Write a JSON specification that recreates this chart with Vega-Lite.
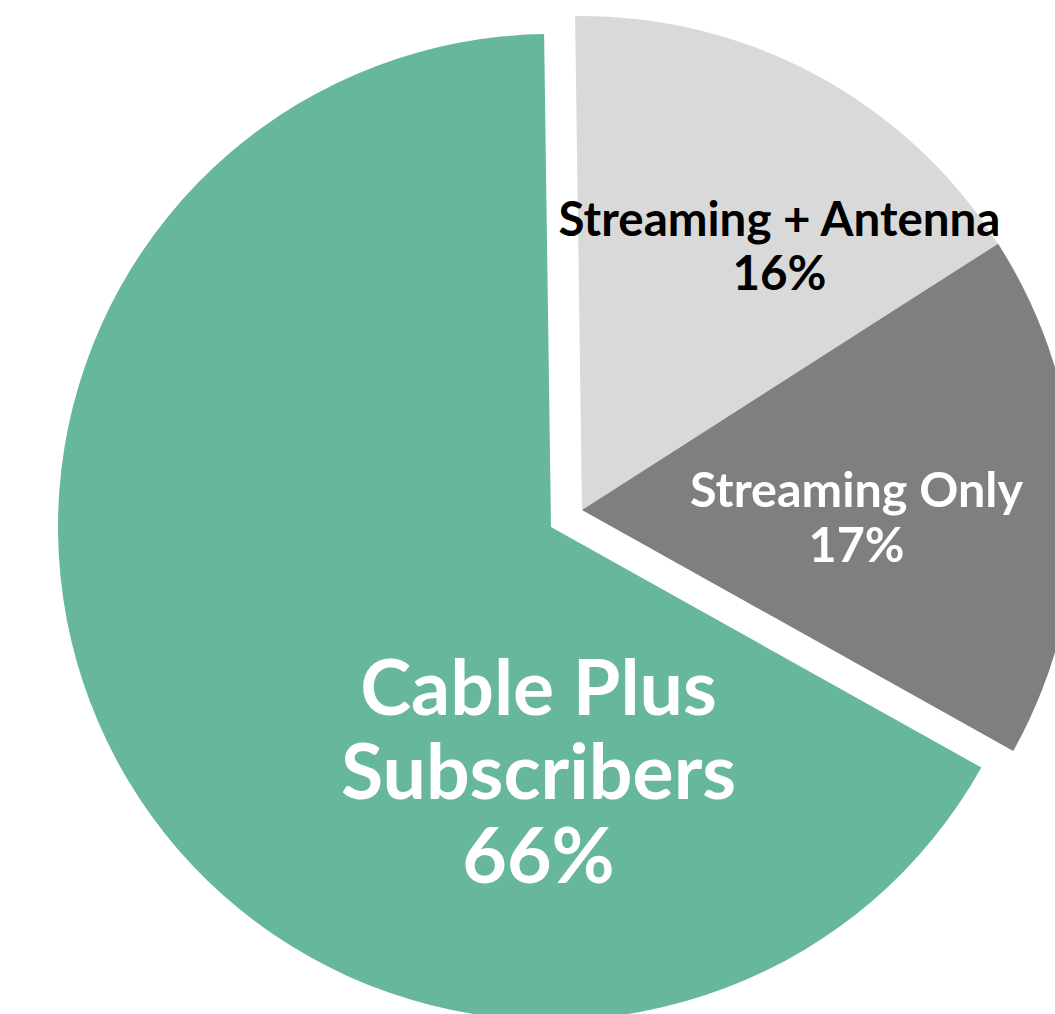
{
  "$schema": "https://vega.github.io/schema/vega-lite/v6.json",
  "width": 1055,
  "height": 1014,
  "autosize": "none",
  "padding": 0,
  "background": "white",
  "config": {"view": {"stroke": null}},
  "data": {
    "values": [
      {"segment": "Streaming + Antenna", "share": 16, "label": "Streaming + Antenna\n16%", "rank": 1},
      {"segment": "Streaming Only", "share": 17, "label": "Streaming Only\n17%", "rank": 2},
      {"segment": "Cable Plus Subscribers", "share": 66, "label": "Cable Plus\nSubscribers\n66%", "rank": 3}
    ]
  },
  "encoding": {
    "theta": {"field": "share", "type": "quantitative", "stack": true, "scale": {"range": [-0.014, 6.2692]}},
    "order": {"field": "rank", "type": "quantitative", "sort": "ascending"},
    "color": {
      "field": "segment",
      "type": "nominal",
      "scale": {"domain": ["Streaming + Antenna", "Streaming Only", "Cable Plus Subscribers"], "range": ["#D9D9D9", "#7F7F7F", "#67B79B"]},
      "legend": null
    }
  },
  "layer": [
    {
      "mark": {"type": "arc", "radius": 493, "xOffset": 23.5, "yOffset": 20},
      "encoding": {"opacity": {"condition": {"test": "datum.rank === 3", "value": 1}, "value": 0}}
    },
    {
      "mark": {"type": "arc", "radius": 494, "xOffset": 54.5, "yOffset": 3},
      "encoding": {"opacity": {"condition": {"test": "datum.rank !== 3", "value": 1}, "value": 0}}
    },
    {
      "mark": {"type": "text", "radius": 349.0, "thetaOffset": 0.1079, "xOffset": 54.5, "yOffset": 3, "font": "Lato", "fontWeight": "bold", "fontSize": 47.5, "lineBreak": "\n", "lineHeight": 54, "align": "center", "baseline": "middle"},
      "encoding": {
        "text": {"condition": {"test": "datum.rank === 1", "field": "label", "type": "nominal"}, "value": ""},
        "color": {"value": "#000000"}
      }
    },
    {
      "mark": {"type": "text", "radius": 275.1, "thetaOffset": -0.0346, "xOffset": 54.5, "yOffset": 3, "font": "Lato", "fontWeight": "bold", "fontSize": 48.5, "lineBreak": "\n", "lineHeight": 55, "align": "center", "baseline": "middle"},
      "encoding": {
        "text": {"condition": {"test": "datum.rank === 2", "field": "label", "type": "nominal"}, "value": ""},
        "color": {"value": "#FFFFFF"}
      }
    },
    {
      "mark": {"type": "text", "radius": 165.7, "thetaOffset": -0.9577, "xOffset": 23.5, "yOffset": 20, "font": "Lato", "fontWeight": "bold", "fontSize": 77, "lineBreak": "\n", "lineHeight": 84, "align": "center", "baseline": "middle"},
      "encoding": {
        "text": {"condition": {"test": "datum.rank === 3", "field": "label", "type": "nominal"}, "value": ""},
        "color": {"value": "#FFFFFF"}
      }
    }
  ]
}
